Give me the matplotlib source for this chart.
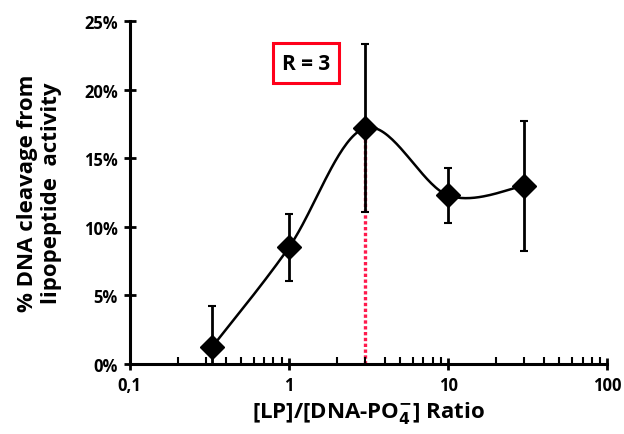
import numpy as np
import matplotlib.pyplot as plt
from matplotlib.ticker import FixedLocator, FuncFormatter, LogLocator, NullFormatter

plt.rcParams['font.family'] = ['Open Sans', 'DejaVu Sans']
plt.rcParams['font.weight'] = 'bold'

# data
ratio = [0.33, 1, 3, 10, 30]
cleavage = [1.25, 8.5, 17.2, 12.3, 13.0]  # percent
err = [3.0, 2.45, 6.15, 2.0, 4.75]

r_mark = 3
r_label = "R = 3"
y_ticks = [0, 5, 10, 15, 20, 25]
x_ticks = [0.1, 1, 10, 100]
x_tick_labels = ["0,1", "1", "10", "100"]

# Excel-style smoothed line (bezier through points, in screen-ish space)
sx, sy = 159.0, 13.72
P = np.column_stack([np.log10(ratio) * sx, np.array(cleavage) * sy])
curve = []
t = np.linspace(0, 1, 40)[:, None]
for i in range(len(P) - 1):
    p0 = P[max(i - 1, 0)]
    p1 = P[i]
    p2 = P[i + 1]
    p3 = P[min(i + 2, len(P) - 1)]
    c1 = p1 + (p2 - p0) / 6
    c2 = p2 - (p3 - p1) / 6
    seg = (1 - t) ** 3 * p1 + 3 * (1 - t) ** 2 * t * c1 + 3 * (1 - t) * t ** 2 * c2 + t ** 3 * p2
    curve.append(seg)
curve = np.vstack(curve)
cx = 10 ** (curve[:, 0] / sx)
cy = curve[:, 1] / sy

fig = plt.figure(figsize=(6.24, 4.35), dpi=100)
ax = fig.add_axes([0.208, 0.161, 0.765, 0.788])

ax.plot([r_mark, r_mark], [0, cleavage[ratio.index(r_mark)]], color=(1, 0.1, 0.3),
        linestyle=(0, (1, 0.75)), lw=2.4, zorder=1)
ax.plot(cx, cy, color='black', lw=1.8, zorder=2)
ax.errorbar(ratio, cleavage, yerr=err, fmt='D', color='black', ms=12.5,
            ecolor='black', elinewidth=2, capsize=3, capthick=1.5, zorder=3)

ax.set_xscale('log')
ax.set_xlim(0.1, 100)
ax.set_ylim(0, 25)
ax.xaxis.set_major_locator(FixedLocator(x_ticks))
ax.xaxis.set_major_formatter(FuncFormatter(lambda v, p: x_tick_labels[x_ticks.index(v)] if v in x_ticks else ""))
ax.xaxis.set_minor_locator(LogLocator(base=10, subs=np.arange(2, 10)))
ax.xaxis.set_minor_formatter(NullFormatter())
ax.set_yticks(y_ticks)
ax.set_yticklabels([f"{v}%" for v in y_ticks])

for s in ['top', 'right']:
    ax.spines[s].set_visible(False)
for s in ['left', 'bottom']:
    ax.spines[s].set_linewidth(2.2)
ax.tick_params(axis='both', which='major', direction='inout', length=9, width=2,
               labelsize=12, pad=4)
ax.tick_params(axis='x', which='minor', direction='in', length=5, width=1.5)

ax.set_xlabel("[LP]/[DNA-PO$_\\mathbf{4}^\\mathbf{-}$] Ratio", fontsize=16, fontweight='bold', labelpad=4)
ax.set_ylabel("% DNA cleavage from\nlipopeptide  activity", fontsize=16, fontweight='bold', labelpad=16)

ax.text(0.369, 0.877, r_label, transform=ax.transAxes, fontsize=15, fontweight='bold',
        ha='center', va='center',
        bbox=dict(boxstyle='square,pad=0.45', facecolor='white', edgecolor=(1, 0, 0.1), lw=2.2))

fig.savefig("out.png", dpi=100)
